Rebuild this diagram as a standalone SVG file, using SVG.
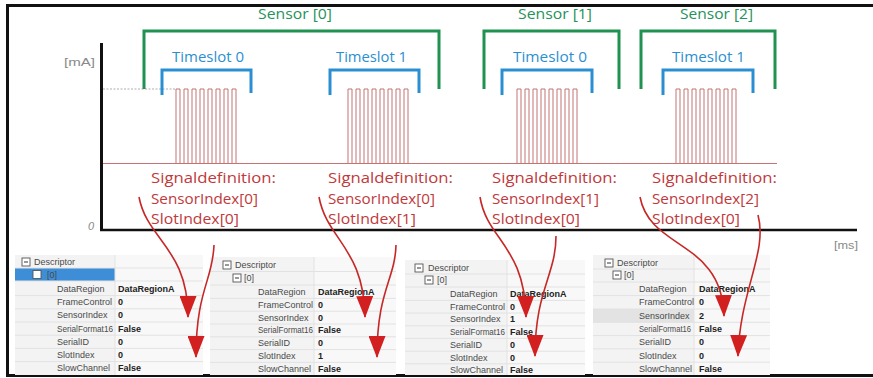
<svg xmlns="http://www.w3.org/2000/svg" xmlns:xlink="http://www.w3.org/1999/xlink" width="873" height="378" viewBox="0 0 873 378">
<style>
.hand{font-family:"Open Sans","DejaVu Sans",sans-serif;}
.sensor{fill:#24925a;font-size:14px;}
.slot{fill:#2b8fcf;font-size:14px;}
.sig{fill:#c0393b;font-size:15px;}
.gsens{fill:none;stroke:#1f9150;stroke-width:3;}
.gslot{fill:none;stroke:#2a8fd2;stroke-width:3;}
.pulse{fill:none;stroke:#c57272;stroke-width:1;}
.arrow{fill:none;stroke:#c62828;stroke-width:1.6;marker-end:url(#ah);}
.tb{font-family:"Liberation Sans",Arial,sans-serif;font-size:9px;fill:#4a4a4a;}
.tv{font-family:"Liberation Sans",Arial,sans-serif;font-size:9px;fill:#222;font-weight:bold;}
.panel{fill:#f3f3f3;}
.vcol{fill:#f8f8f8;}
.rl{stroke:#e2e2e2;stroke-width:1;}
.box{fill:#fff;stroke:#555;stroke-width:0.9;}
.axl{font-family:"Liberation Sans",Arial,sans-serif;fill:#8a8a8a;font-size:11px;}
</style>
<defs>
<marker id="ah" markerUnits="userSpaceOnUse" markerWidth="22" markerHeight="17" refX="21" refY="8.5" orient="auto" viewBox="0 0 22 17">
<path d="M0,0 L22,8.5 L0,17 Z" fill="#d21f1f"/>
</marker>
<path id="pulses" d="M0,163 v-74 h4 v74 m4,0 v-74 h4 v74 m4,0 v-74 h4 v74 m4,0 v-74 h4 v74 m4,0 v-74 h4 v74 m4,0 v-74 h4 v74 m4,0 v-74 h4 v74 m4,0 v-74 h4 v74"/>
</defs>
<rect x="0" y="0" width="873" height="378" fill="#fff"/>
<rect x="7.5" y="5.5" width="867" height="370" fill="none" stroke="#111" stroke-width="3"/>

<g id="axes">
<line x1="101.5" y1="43" x2="101.5" y2="231" stroke="#111" stroke-width="3"/>
<line x1="100" y1="230" x2="857" y2="230" stroke="#111" stroke-width="2.5"/>
<text class="axl" x="64" y="66" textLength="31" lengthAdjust="spacingAndGlyphs">[mA]</text>
<text class="axl" x="88" y="230" font-size="9" font-style="italic">0</text>
<text class="axl" x="834" y="249" textLength="24" lengthAdjust="spacingAndGlyphs">[ms]</text>
<line x1="103" y1="89" x2="176" y2="89" stroke="#9a9a9a" stroke-width="0.8" stroke-dasharray="2,1.5"/>
</g>

<g id="signal">
<line x1="103" y1="163.5" x2="777" y2="163.5" class="pulse"/>
<use xlink:href="#pulses" class="pulse" x="176"/>
<use xlink:href="#pulses" class="pulse" x="348"/>
<use xlink:href="#pulses" class="pulse" x="517"/>
<use xlink:href="#pulses" class="pulse" x="676"/>
</g>

<g id="sensor0">
<path class="gsens" d="M144,89 V31 H439 V89"/>
<text class="hand sensor" x="258" y="19" textLength="74" lengthAdjust="spacingAndGlyphs">Sensor [0]</text>
</g>
<g id="sensor1">
<path class="gsens" d="M484,89 V31 H619 V89"/>
<text class="hand sensor" x="518" y="19" textLength="74" lengthAdjust="spacingAndGlyphs">Sensor [1]</text>
</g>
<g id="sensor2">
<path class="gsens" d="M641,89 V31 H775 V89"/>
<text class="hand sensor" x="680" y="19" textLength="73" lengthAdjust="spacingAndGlyphs">Sensor [2]</text>
</g>

<g id="ts0a">
<path class="gslot" d="M162,95 V70 H251 V93"/>
<text class="hand slot" x="172" y="62" textLength="72" lengthAdjust="spacingAndGlyphs">Timeslot 0</text>
</g>
<g id="ts1a">
<path class="gslot" d="M330,95 V70 H419 V93"/>
<text class="hand slot" x="336" y="62" textLength="71" lengthAdjust="spacingAndGlyphs">Timeslot 1</text>
</g>
<g id="ts0b">
<path class="gslot" d="M502,95 V70 H592 V93"/>
<text class="hand slot" x="513" y="62" textLength="74" lengthAdjust="spacingAndGlyphs">Timeslot 0</text>
</g>
<g id="ts1b">
<path class="gslot" d="M663,95 V70 H753 V93"/>
<text class="hand slot" x="672" y="62" textLength="73" lengthAdjust="spacingAndGlyphs">Timeslot 1</text>
</g>

<g id="sig0">
<text class="hand sig" x="151" y="183" textLength="125" lengthAdjust="spacingAndGlyphs">Signaldefinition:</text>
<text class="hand sig" x="151" y="204" textLength="107" lengthAdjust="spacingAndGlyphs">SensorIndex[0]</text>
<text class="hand sig" x="151" y="224" textLength="88" lengthAdjust="spacingAndGlyphs">SlotIndex[0]</text>
</g>
<g id="sig1">
<text class="hand sig" x="328" y="183" textLength="125" lengthAdjust="spacingAndGlyphs">Signaldefinition:</text>
<text class="hand sig" x="328" y="204" textLength="107" lengthAdjust="spacingAndGlyphs">SensorIndex[0]</text>
<text class="hand sig" x="328" y="224" textLength="88" lengthAdjust="spacingAndGlyphs">SlotIndex[1]</text>
</g>
<g id="sig2">
<text class="hand sig" x="492" y="183" textLength="125" lengthAdjust="spacingAndGlyphs">Signaldefinition:</text>
<text class="hand sig" x="492" y="204" textLength="107" lengthAdjust="spacingAndGlyphs">SensorIndex[1]</text>
<text class="hand sig" x="492" y="224" textLength="88" lengthAdjust="spacingAndGlyphs">SlotIndex[0]</text>
</g>
<g id="sig3">
<text class="hand sig" x="652" y="183" textLength="125" lengthAdjust="spacingAndGlyphs">Signaldefinition:</text>
<text class="hand sig" x="652" y="204" textLength="107" lengthAdjust="spacingAndGlyphs">SensorIndex[2]</text>
<text class="hand sig" x="652" y="224" textLength="88" lengthAdjust="spacingAndGlyphs">SlotIndex[0]</text>
</g>

<g id="table1">
<rect class="panel" x="15" y="255" width="188" height="120"/>
<rect class="vcol" x="115" y="255" width="88" height="120"/>
<rect x="15" y="268" width="100" height="13" fill="#3d8ed6"/>
<g class="rl">
<line x1="15" y1="268" x2="203" y2="268"/><line x1="15" y1="281" x2="203" y2="281"/><line x1="15" y1="295.6" x2="203" y2="295.6"/><line x1="15" y1="308.8" x2="203" y2="308.8"/><line x1="15" y1="322" x2="203" y2="322"/><line x1="15" y1="335.2" x2="203" y2="335.2"/><line x1="15" y1="348.4" x2="203" y2="348.4"/><line x1="15" y1="361.6" x2="203" y2="361.6"/><line x1="115" y1="255" x2="115" y2="375"/>
</g>
<rect class="box" x="22" y="258" width="8" height="8"/><line x1="24" y1="262" x2="28" y2="262" stroke="#333"/>
<rect class="box" x="33" y="270.5" width="8" height="8" fill="#3d8ed6" stroke="#fff"/><line x1="35" y1="274.5" x2="39" y2="274.5" stroke="#fff"/>
<text class="tb" x="34" y="265">Descriptor</text>
<text class="tb" x="47" y="277.5" fill="#cfe2f6">[0]</text>
<text class="tb" x="57" y="292">DataRegion</text>
<text class="tb" x="57" y="305.2">FrameControl</text>
<text class="tb" x="57" y="318.4">SensorIndex</text>
<text class="tb" x="57" y="331.6" textLength="56" lengthAdjust="spacingAndGlyphs">SerialFormat16</text>
<text class="tb" x="57" y="344.8">SerialID</text>
<text class="tb" x="57" y="358">SlotIndex</text>
<text class="tb" x="57" y="371.2">SlowChannel</text>
<text class="tv" x="118" y="292">DataRegionA</text>
<text class="tv" x="118" y="305.2">0</text>
<text class="tv" x="118" y="318.4">0</text>
<text class="tv" x="118" y="331.6">False</text>
<text class="tv" x="118" y="344.8">0</text>
<text class="tv" x="118" y="358">0</text>
<text class="tv" x="118" y="371.2">False</text>
</g>

<g id="table2">
<rect class="panel" x="210" y="257" width="186" height="118"/>
<rect class="vcol" x="314" y="257" width="82" height="118"/>
<g class="rl">
<line x1="210" y1="271.5" x2="396" y2="271.5"/><line x1="210" y1="285" x2="396" y2="285"/><line x1="210" y1="298.4" x2="396" y2="298.4"/><line x1="210" y1="311.2" x2="396" y2="311.2"/><line x1="210" y1="324" x2="396" y2="324"/><line x1="210" y1="336.8" x2="396" y2="336.8"/><line x1="210" y1="349.6" x2="396" y2="349.6"/><line x1="210" y1="362.4" x2="396" y2="362.4"/><line x1="314" y1="257" x2="314" y2="375"/>
</g>
<rect class="box" x="223" y="261" width="8" height="8"/><line x1="225" y1="265" x2="229" y2="265" stroke="#333"/>
<rect class="box" x="233" y="274" width="8" height="8"/><line x1="235" y1="278" x2="239" y2="278" stroke="#333"/>
<text class="tb" x="235" y="268">Descriptor</text>
<text class="tb" x="244" y="281">[0]</text>
<text class="tb" x="258" y="295">DataRegion</text>
<text class="tb" x="258" y="307.8">FrameControl</text>
<text class="tb" x="258" y="320.6">SensorIndex</text>
<text class="tb" x="258" y="333.4" textLength="55" lengthAdjust="spacingAndGlyphs">SerialFormat16</text>
<text class="tb" x="258" y="346.2">SerialID</text>
<text class="tb" x="258" y="359">SlotIndex</text>
<text class="tb" x="258" y="371.8">SlowChannel</text>
<text class="tv" x="318" y="295">DataRegionA</text>
<text class="tv" x="318" y="307.8">0</text>
<text class="tv" x="318" y="320.6">0</text>
<text class="tv" x="318" y="333.4">False</text>
<text class="tv" x="318" y="346.2">0</text>
<text class="tv" x="318" y="359">1</text>
<text class="tv" x="318" y="371.8">False</text>
</g>

<g id="table3">
<rect class="panel" x="405" y="260" width="180" height="115"/>
<rect class="vcol" x="507" y="260" width="78" height="115"/>
<g class="rl">
<line x1="405" y1="274" x2="585" y2="274"/><line x1="405" y1="287" x2="585" y2="287"/><line x1="405" y1="300.4" x2="585" y2="300.4"/><line x1="405" y1="313" x2="585" y2="313"/><line x1="405" y1="325.8" x2="585" y2="325.8"/><line x1="405" y1="338.4" x2="585" y2="338.4"/><line x1="405" y1="351.2" x2="585" y2="351.2"/><line x1="405" y1="363.8" x2="585" y2="363.8"/><line x1="507" y1="260" x2="507" y2="375"/>
</g>
<rect class="box" x="415" y="264" width="8" height="8"/><line x1="417" y1="268" x2="421" y2="268" stroke="#333"/>
<rect class="box" x="425" y="276" width="8" height="8"/><line x1="427" y1="280" x2="431" y2="280" stroke="#333"/>
<text class="tb" x="428" y="271">Descriptor</text>
<text class="tb" x="437" y="283">[0]</text>
<text class="tb" x="450" y="297">DataRegion</text>
<text class="tb" x="450" y="309.7">FrameControl</text>
<text class="tb" x="450" y="322.4">SensorIndex</text>
<text class="tb" x="450" y="335.1" textLength="55" lengthAdjust="spacingAndGlyphs">SerialFormat16</text>
<text class="tb" x="450" y="347.8">SerialID</text>
<text class="tb" x="450" y="360.5">SlotIndex</text>
<text class="tb" x="450" y="373.2">SlowChannel</text>
<text class="tv" x="510" y="297">DataRegionA</text>
<text class="tv" x="510" y="309.7">0</text>
<text class="tv" x="510" y="322.4">1</text>
<text class="tv" x="510" y="335.1">False</text>
<text class="tv" x="510" y="347.8">0</text>
<text class="tv" x="510" y="360.5">0</text>
<text class="tv" x="510" y="373.2">False</text>
</g>

<g id="table4">
<rect class="panel" x="593" y="255" width="177" height="120"/>
<rect class="vcol" x="694" y="255" width="76" height="120"/>
<rect x="593" y="309" width="101" height="13.3" fill="#e3e3e3"/>
<g class="rl">
<line x1="593" y1="269" x2="770" y2="269"/><line x1="593" y1="282" x2="770" y2="282"/><line x1="593" y1="295.6" x2="770" y2="295.6"/><line x1="593" y1="309" x2="770" y2="309"/><line x1="593" y1="322.3" x2="770" y2="322.3"/><line x1="593" y1="335.6" x2="770" y2="335.6"/><line x1="593" y1="348.9" x2="770" y2="348.9"/><line x1="593" y1="362.2" x2="770" y2="362.2"/><line x1="694" y1="255" x2="694" y2="375"/>
</g>
<rect class="box" x="605" y="259" width="8" height="8"/><line x1="607" y1="263" x2="611" y2="263" stroke="#333"/>
<rect class="box" x="613" y="271" width="8" height="8"/><line x1="615" y1="275" x2="619" y2="275" stroke="#333"/>
<text class="tb" x="617" y="266">Descriptor</text>
<text class="tb" x="624" y="278">[0]</text>
<text class="tb" x="639" y="292">DataRegion</text>
<text class="tb" x="639" y="305.3">FrameControl</text>
<text class="tb" x="639" y="318.6">SensorIndex</text>
<text class="tb" x="639" y="331.9" textLength="52" lengthAdjust="spacingAndGlyphs">SerialFormat16</text>
<text class="tb" x="639" y="345.2">SerialID</text>
<text class="tb" x="639" y="358.5">SlotIndex</text>
<text class="tb" x="639" y="371.8">SlowChannel</text>
<text class="tv" x="699" y="292">DataRegionA</text>
<text class="tv" x="699" y="305.3">0</text>
<text class="tv" x="699" y="318.6">2</text>
<text class="tv" x="699" y="331.9">False</text>
<text class="tv" x="699" y="345.2">0</text>
<text class="tv" x="699" y="358.5">0</text>
<text class="tv" x="699" y="371.8">False</text>
</g>

<g id="connectors">
<path class="arrow" d="M139,197 C147,240 188,248 188,317"/>
<path class="arrow" d="M214,245 C213,280 196,290 196,357"/>
<path class="arrow" d="M319,197 C327,240 364,248 365,317"/>
<path class="arrow" d="M396,245 C395,280 377,290 377,357"/>
<path class="arrow" d="M480,197 C487,240 525,246 526,317"/>
<path class="arrow" d="M556,236 C556,275 535,290 535,356"/>
<path class="arrow" d="M640,197 C650,250 722,240 724,316"/>
<path class="arrow" d="M758,215 C768,252 740,290 738,356"/>
</g>
</svg>
